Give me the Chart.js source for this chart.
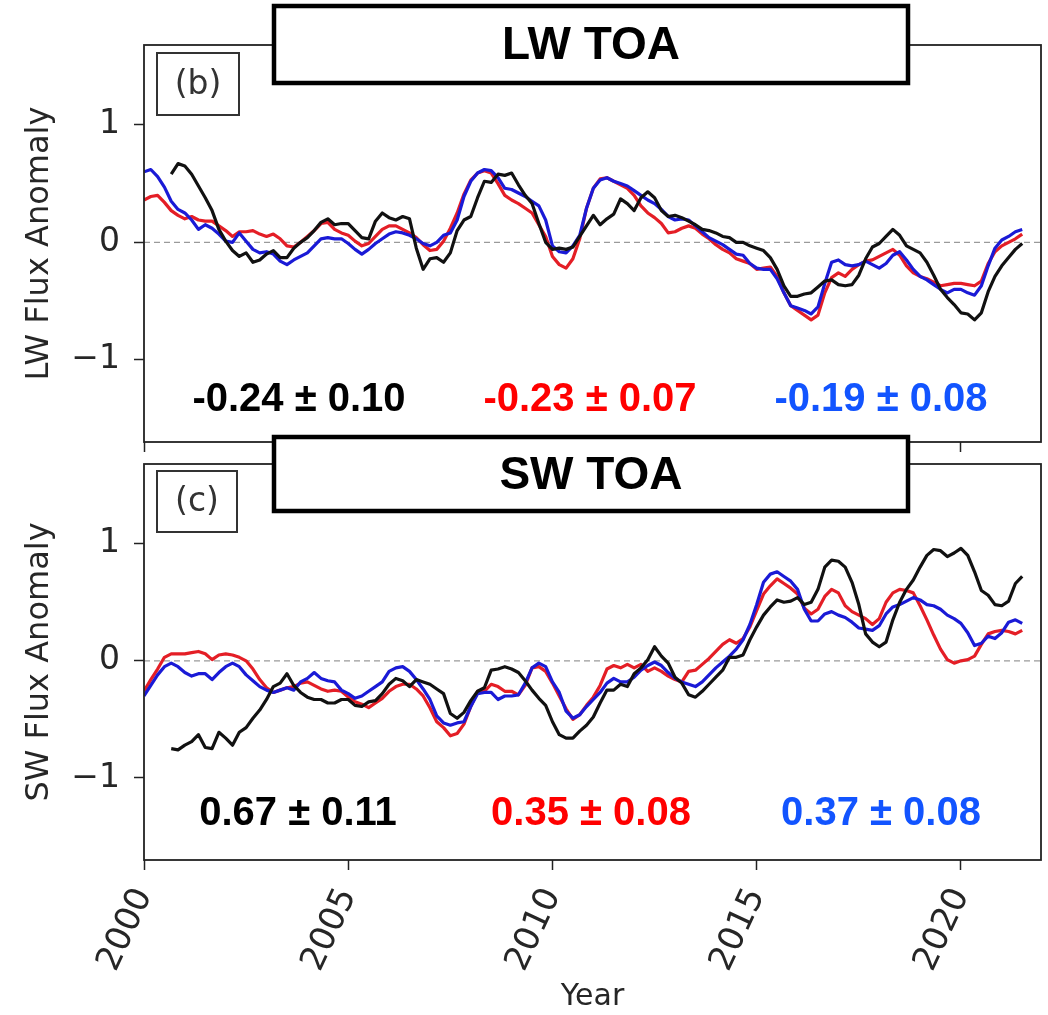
<!DOCTYPE html>
<html>
<head>
<meta charset="utf-8">
<script src="https://cdn.jsdelivr.net/npm/chart.js@4.4.1/dist/chart.umd.min.js"></script>
<style>
  body { margin: 0; background: #fff; width: 1048px; height: 1015px; position: relative; overflow: hidden; }
  canvas { position: absolute; left: 0; }
  #lw { top: 0; }
  #sw { top: 430px; }
</style>
</head>
<body>
<canvas id="lw" width="1048" height="460"></canvas>
<canvas id="sw" width="1048" height="585"></canvas>
<script>
// time axis: 2-month steps from Jan 2000
const startYear = 2000, stepsPerYear = 6, nSteps = 130;
const years = [];
for (let i = 0; i < nSteps; i++) years.push(startYear + i / stepsPerYear);

// LW TOA anomalies
const lwBlack = [null,null,null,null,0.58,0.67,0.65,0.58,0.48,0.38,
  0.27,0.11,0.01,-0.07,-0.12,-0.09,-0.17,-0.15,-0.10,-0.07,
  -0.13,-0.13,-0.05,0.00,0.04,0.10,0.17,0.20,0.15,0.16,
  0.16,0.10,0.04,0.03,0.18,0.25,0.21,0.19,0.22,0.20,
  -0.05,-0.23,-0.14,-0.13,-0.17,-0.09,0.10,0.19,0.22,0.38,
  0.52,0.51,0.58,0.57,0.59,0.49,0.40,0.33,0.16,0.00,
  -0.06,-0.05,-0.06,-0.04,0.05,0.14,0.23,0.15,0.20,0.24,
  0.37,0.33,0.27,0.38,0.43,0.38,0.27,0.22,0.23,0.21,
  0.18,0.15,0.11,0.10,0.08,0.05,0.04,0.00,0.00,-0.03,
  -0.05,-0.07,-0.13,-0.23,-0.37,-0.46,-0.46,-0.44,-0.43,-0.38,
  -0.33,-0.32,-0.36,-0.37,-0.36,-0.28,-0.14,-0.04,-0.01,0.05,
  0.11,0.06,-0.03,-0.06,-0.09,-0.17,-0.28,-0.40,-0.47,-0.53,
  -0.60,-0.61,-0.66,-0.60,-0.42,-0.29,-0.20,-0.13,-0.06,-0.01];
const lwRed = [0.36,0.39,0.40,0.34,0.27,0.23,0.20,0.22,0.19,0.18,
  0.18,0.14,0.10,0.05,0.09,0.09,0.10,0.07,0.05,0.07,
  0.03,-0.03,-0.04,0.00,0.05,0.10,0.16,0.17,0.11,0.08,
  0.06,0.01,-0.03,-0.01,0.05,0.11,0.14,0.14,0.11,0.08,
  0.04,-0.02,-0.07,-0.06,0.01,0.12,0.25,0.41,0.53,0.59,
  0.61,0.59,0.50,0.40,0.36,0.33,0.29,0.25,0.15,0.05,
  -0.12,-0.19,-0.22,-0.14,0.03,0.29,0.46,0.54,0.55,0.52,
  0.49,0.46,0.40,0.31,0.25,0.21,0.16,0.08,0.09,0.12,
  0.14,0.12,0.07,0.03,-0.02,-0.06,-0.09,-0.14,-0.16,-0.18,
  -0.23,-0.22,-0.21,-0.29,-0.43,-0.54,-0.58,-0.62,-0.66,-0.62,
  -0.43,-0.30,-0.26,-0.29,-0.23,-0.19,-0.16,-0.15,-0.12,-0.09,
  -0.06,-0.11,-0.20,-0.26,-0.29,-0.31,-0.34,-0.37,-0.36,-0.35,
  -0.35,-0.36,-0.37,-0.33,-0.18,-0.08,-0.03,0.00,0.03,0.07];
const lwBlue = [0.60,0.62,0.56,0.47,0.35,0.28,0.25,0.19,0.11,0.15,
  0.12,0.07,0.01,0.00,0.08,0.01,-0.06,-0.09,-0.08,-0.10,
  -0.16,-0.19,-0.15,-0.12,-0.09,-0.03,0.03,0.04,0.03,0.03,
  -0.01,-0.06,-0.10,-0.06,-0.01,0.03,0.07,0.09,0.08,0.06,
  0.03,-0.01,-0.03,0.00,0.06,0.08,0.19,0.39,0.52,0.59,
  0.62,0.61,0.55,0.46,0.45,0.42,0.39,0.35,0.31,0.19,
  -0.03,-0.08,-0.09,-0.03,0.06,0.29,0.46,0.53,0.55,0.52,
  0.50,0.48,0.44,0.40,0.36,0.33,0.28,0.22,0.19,0.20,
  0.19,0.14,0.09,0.04,0.01,-0.02,-0.06,-0.10,-0.11,-0.18,
  -0.22,-0.23,-0.23,-0.31,-0.43,-0.54,-0.56,-0.58,-0.61,-0.55,
  -0.35,-0.17,-0.15,-0.19,-0.20,-0.19,-0.16,-0.19,-0.22,-0.18,
  -0.11,-0.08,-0.15,-0.23,-0.29,-0.32,-0.36,-0.40,-0.43,-0.40,
  -0.40,-0.43,-0.45,-0.37,-0.20,-0.05,0.02,0.05,0.09,0.11];

// SW TOA anomalies
const swBlack = [null,null,null,null,-0.75,-0.76,-0.72,-0.69,-0.63,-0.74,
  -0.75,-0.61,-0.66,-0.72,-0.61,-0.57,-0.49,-0.42,-0.33,-0.22,
  -0.19,-0.11,-0.21,-0.27,-0.31,-0.33,-0.33,-0.36,-0.36,-0.33,
  -0.33,-0.38,-0.39,-0.35,-0.34,-0.28,-0.20,-0.15,-0.17,-0.22,
  -0.16,-0.18,-0.20,-0.24,-0.28,-0.45,-0.49,-0.44,-0.34,-0.26,
  -0.23,-0.08,-0.07,-0.05,-0.07,-0.10,-0.17,-0.25,-0.32,-0.38,
  -0.52,-0.63,-0.66,-0.66,-0.60,-0.55,-0.48,-0.36,-0.25,-0.25,
  -0.20,-0.22,-0.11,-0.06,0.01,0.12,0.04,-0.02,-0.14,-0.19,
  -0.29,-0.31,-0.26,-0.20,-0.14,-0.08,0.03,0.03,0.05,0.18,
  0.29,0.39,0.46,0.52,0.50,0.51,0.54,0.48,0.50,0.61,
  0.80,0.86,0.85,0.80,0.67,0.48,0.23,0.16,0.12,0.16,
  0.35,0.50,0.61,0.69,0.80,0.90,0.95,0.94,0.89,0.92,
  0.96,0.90,0.76,0.60,0.56,0.48,0.47,0.51,0.66,0.72];
const swRed = [-0.26,-0.16,-0.07,0.03,0.06,0.06,0.06,0.07,0.08,0.06,
  0.01,0.05,0.06,0.05,0.03,0.00,-0.07,-0.16,-0.23,-0.27,
  -0.25,-0.23,-0.22,-0.19,-0.18,-0.21,-0.24,-0.26,-0.25,-0.26,
  -0.31,-0.35,-0.37,-0.40,-0.36,-0.32,-0.26,-0.22,-0.20,-0.20,
  -0.24,-0.30,-0.40,-0.52,-0.57,-0.64,-0.62,-0.54,-0.39,-0.26,
  -0.26,-0.20,-0.22,-0.26,-0.26,-0.29,-0.21,-0.06,-0.05,-0.09,
  -0.19,-0.30,-0.41,-0.50,-0.46,-0.38,-0.31,-0.21,-0.07,-0.04,
  -0.06,-0.03,-0.06,-0.03,-0.09,-0.06,-0.09,-0.13,-0.16,-0.18,
  -0.09,-0.08,-0.03,0.02,0.08,0.14,0.18,0.15,0.19,0.29,
  0.43,0.57,0.64,0.70,0.66,0.62,0.57,0.45,0.40,0.44,
  0.55,0.61,0.58,0.47,0.42,0.39,0.36,0.31,0.36,0.50,
  0.58,0.61,0.60,0.58,0.47,0.35,0.22,0.10,0.01,-0.02,
  0.00,0.01,0.04,0.14,0.23,0.25,0.26,0.25,0.23,0.26];
const swBlue = [-0.30,-0.21,-0.12,-0.05,-0.02,-0.05,-0.10,-0.13,-0.11,-0.11,
  -0.16,-0.10,-0.05,-0.02,-0.05,-0.12,-0.17,-0.22,-0.25,-0.27,
  -0.25,-0.23,-0.25,-0.18,-0.15,-0.10,-0.15,-0.17,-0.18,-0.25,
  -0.28,-0.32,-0.30,-0.26,-0.22,-0.18,-0.09,-0.06,-0.05,-0.09,
  -0.16,-0.24,-0.33,-0.47,-0.53,-0.55,-0.53,-0.52,-0.39,-0.28,
  -0.27,-0.27,-0.33,-0.30,-0.30,-0.29,-0.19,-0.06,-0.02,-0.05,
  -0.18,-0.27,-0.43,-0.49,-0.46,-0.39,-0.33,-0.27,-0.19,-0.15,
  -0.18,-0.18,-0.14,-0.08,-0.04,-0.01,-0.04,-0.10,-0.15,-0.18,
  -0.20,-0.22,-0.18,-0.12,-0.06,-0.01,0.04,0.10,0.18,0.31,
  0.48,0.67,0.74,0.76,0.72,0.68,0.61,0.44,0.34,0.34,
  0.40,0.42,0.39,0.37,0.33,0.28,0.27,0.26,0.30,0.40,
  0.46,0.48,0.51,0.54,0.52,0.48,0.47,0.44,0.39,0.36,
  0.32,0.24,0.13,0.15,0.21,0.19,0.24,0.33,0.35,0.32];

// trend annotations (black, red, blue)
const lwStats = ['-0.24 \u00b1 0.10', '-0.23 \u00b1 0.07', '-0.19 \u00b1 0.08'];
const swStats = ['0.67 \u00b1 0.11', '0.35 \u00b1 0.08', '0.37 \u00b1 0.08'];
const statColors = ['#000000', '#ff0000', '#1254ff'];
const lineColors = ['#111111', '#e41e26', '#1a1ad6'];
const xTicks = [2000, 2005, 2010, 2015, 2020];
const xMin = 2000, xMax = 2021.96, yMin = -1.7, yMax = 1.68;

const axisFont = 'DejaVu Sans';
const textColor = '#262626';

const decorations = {
  id: 'decorations',
  afterDatasetsDraw(chart, args, o) {
    const { ctx, chartArea: a } = chart;
    ctx.save();
    // axes frame
    ctx.strokeStyle = '#222';
    ctx.lineWidth = 1.8;
    ctx.strokeRect(a.left, a.top, a.right - a.left, a.bottom - a.top);
    // panel letter
    ctx.lineWidth = 2;
    ctx.strokeStyle = '#333';
    ctx.strokeRect(o.tag.x, o.tag.y, o.tag.w, o.tag.h);
    ctx.fillStyle = '#333';
    ctx.font = '33px "' + axisFont + '"';
    ctx.textAlign = 'center';
    ctx.textBaseline = 'middle';
    ctx.fillText(o.tag.text, o.tag.x + o.tag.w / 2, o.tag.y + o.tag.h / 2 + 1);
    // trend numbers
    ctx.font = 'bold 40px "Liberation Sans"';
    o.stats.forEach((s, k) => {
      ctx.fillStyle = statColors[k];
      ctx.fillText(s, o.statX[k], o.statY);
    });
    // title box
    const b = o.box;
    ctx.fillStyle = '#fff';
    ctx.fillRect(b.x, b.y, b.w, b.h);
    ctx.lineWidth = 4.5;
    ctx.strokeStyle = '#000';
    ctx.strokeRect(b.x, b.y, b.w, b.h);
    ctx.fillStyle = '#000';
    ctx.font = 'bold 46px "Liberation Sans"';
    ctx.fillText(o.title, b.x + b.w / 2, b.y + b.h / 2 + 2);
    ctx.restore();
  }
};

function series(values, color) {
  return {
    data: values.map((v, i) => ({ x: years[i], y: v })),
    borderColor: color,
    borderWidth: 3.2,
    pointRadius: 0,
    tension: 0,
    borderJoinStyle: 'round',
    spanGaps: false
  };
}

function makePanel(id, black, red, blue, cfg) {
  const datasets = [
    series(black, lineColors[0]),
    series(blue, lineColors[2]),
    series(red, lineColors[1]),
    {
      data: [{ x: xMin, y: 0 }, { x: xMax, y: 0 }],
      borderColor: '#9a9a9a',
      borderWidth: 1.3,
      borderDash: [6, 4],
      pointRadius: 0
    }
  ];
  return new Chart(document.getElementById(id), {
    type: 'line',
    data: { datasets },
    plugins: [decorations],
    options: {
      responsive: false,
      animation: false,
      layout: { padding: { top: cfg.top, right: 7, left: 0, bottom: 0 } },
      plugins: {
        legend: { display: false },
        tooltip: { enabled: false },
        decorations: cfg.deco
      },
      scales: {
        x: {
          type: 'linear',
          min: xMin,
          max: xMax,
          afterFit: s => { s.height = cfg.xHeight; s.paddingLeft = 0; s.paddingRight = 0; },
          afterBuildTicks: s => { s.ticks = xTicks.map(v => ({ value: v })); },
          border: { display: false },
          grid: { drawOnChartArea: false, drawTicks: true, tickLength: 10, tickColor: '#222', tickWidth: 1.5 },
          ticks: {
            display: cfg.showX,
            autoSkip: false,
            minRotation: 65,
            maxRotation: 65,
            padding: 12,
            color: textColor,
            font: { family: axisFont, size: 34 },
            callback: v => String(v)
          },
          title: {
            display: cfg.showX,
            text: 'Year',
            color: textColor,
            font: { family: axisFont, size: 30 },
            padding: { top: 0, bottom: 0 }
          }
        },
        y: {
          min: yMin,
          max: yMax,
          afterFit: s => { s.width = 144; s.paddingTop = 0; s.paddingBottom = 0; },
          border: { display: false },
          grid: { drawOnChartArea: false, drawTicks: true, tickLength: 10, tickColor: '#222', tickWidth: 1.5 },
          ticks: {
            stepSize: 1,
            includeBounds: false,
            padding: 14,
            color: textColor,
            font: { family: axisFont, size: 33 },
            callback: v => (v < 0 ? '\u2212' + Math.abs(v) : String(v))
          },
          title: {
            display: true,
            text: cfg.yTitle,
            color: textColor,
            font: { family: axisFont, size: 32 },
            padding: { top: 20, bottom: 0 }
          }
        }
      }
    }
  });
}

makePanel('lw', lwBlack, lwRed, lwBlue, {
  top: 45, xHeight: 18, showX: false, yTitle: 'LW Flux Anomaly',
  deco: {
    title: 'LW TOA',
    box: { x: 274, y: 6, w: 634, h: 77 },
    tag: { x: 157, y: 53, w: 82, h: 62, text: '(b)' },
    stats: lwStats, statX: [299, 590, 881], statY: 400
  }
});

makePanel('sw', swBlack, swRed, swBlue, {
  top: 34, xHeight: 155, showX: true, yTitle: 'SW Flux Anomaly',
  deco: {
    title: 'SW TOA',
    box: { x: 274, y: 7, w: 634, h: 74 },
    tag: { x: 157, y: 41, w: 80, h: 61, text: '(c)' },
    stats: swStats, statX: [298, 591, 881], statY: 384
  }
});
</script>
</body>
</html>
